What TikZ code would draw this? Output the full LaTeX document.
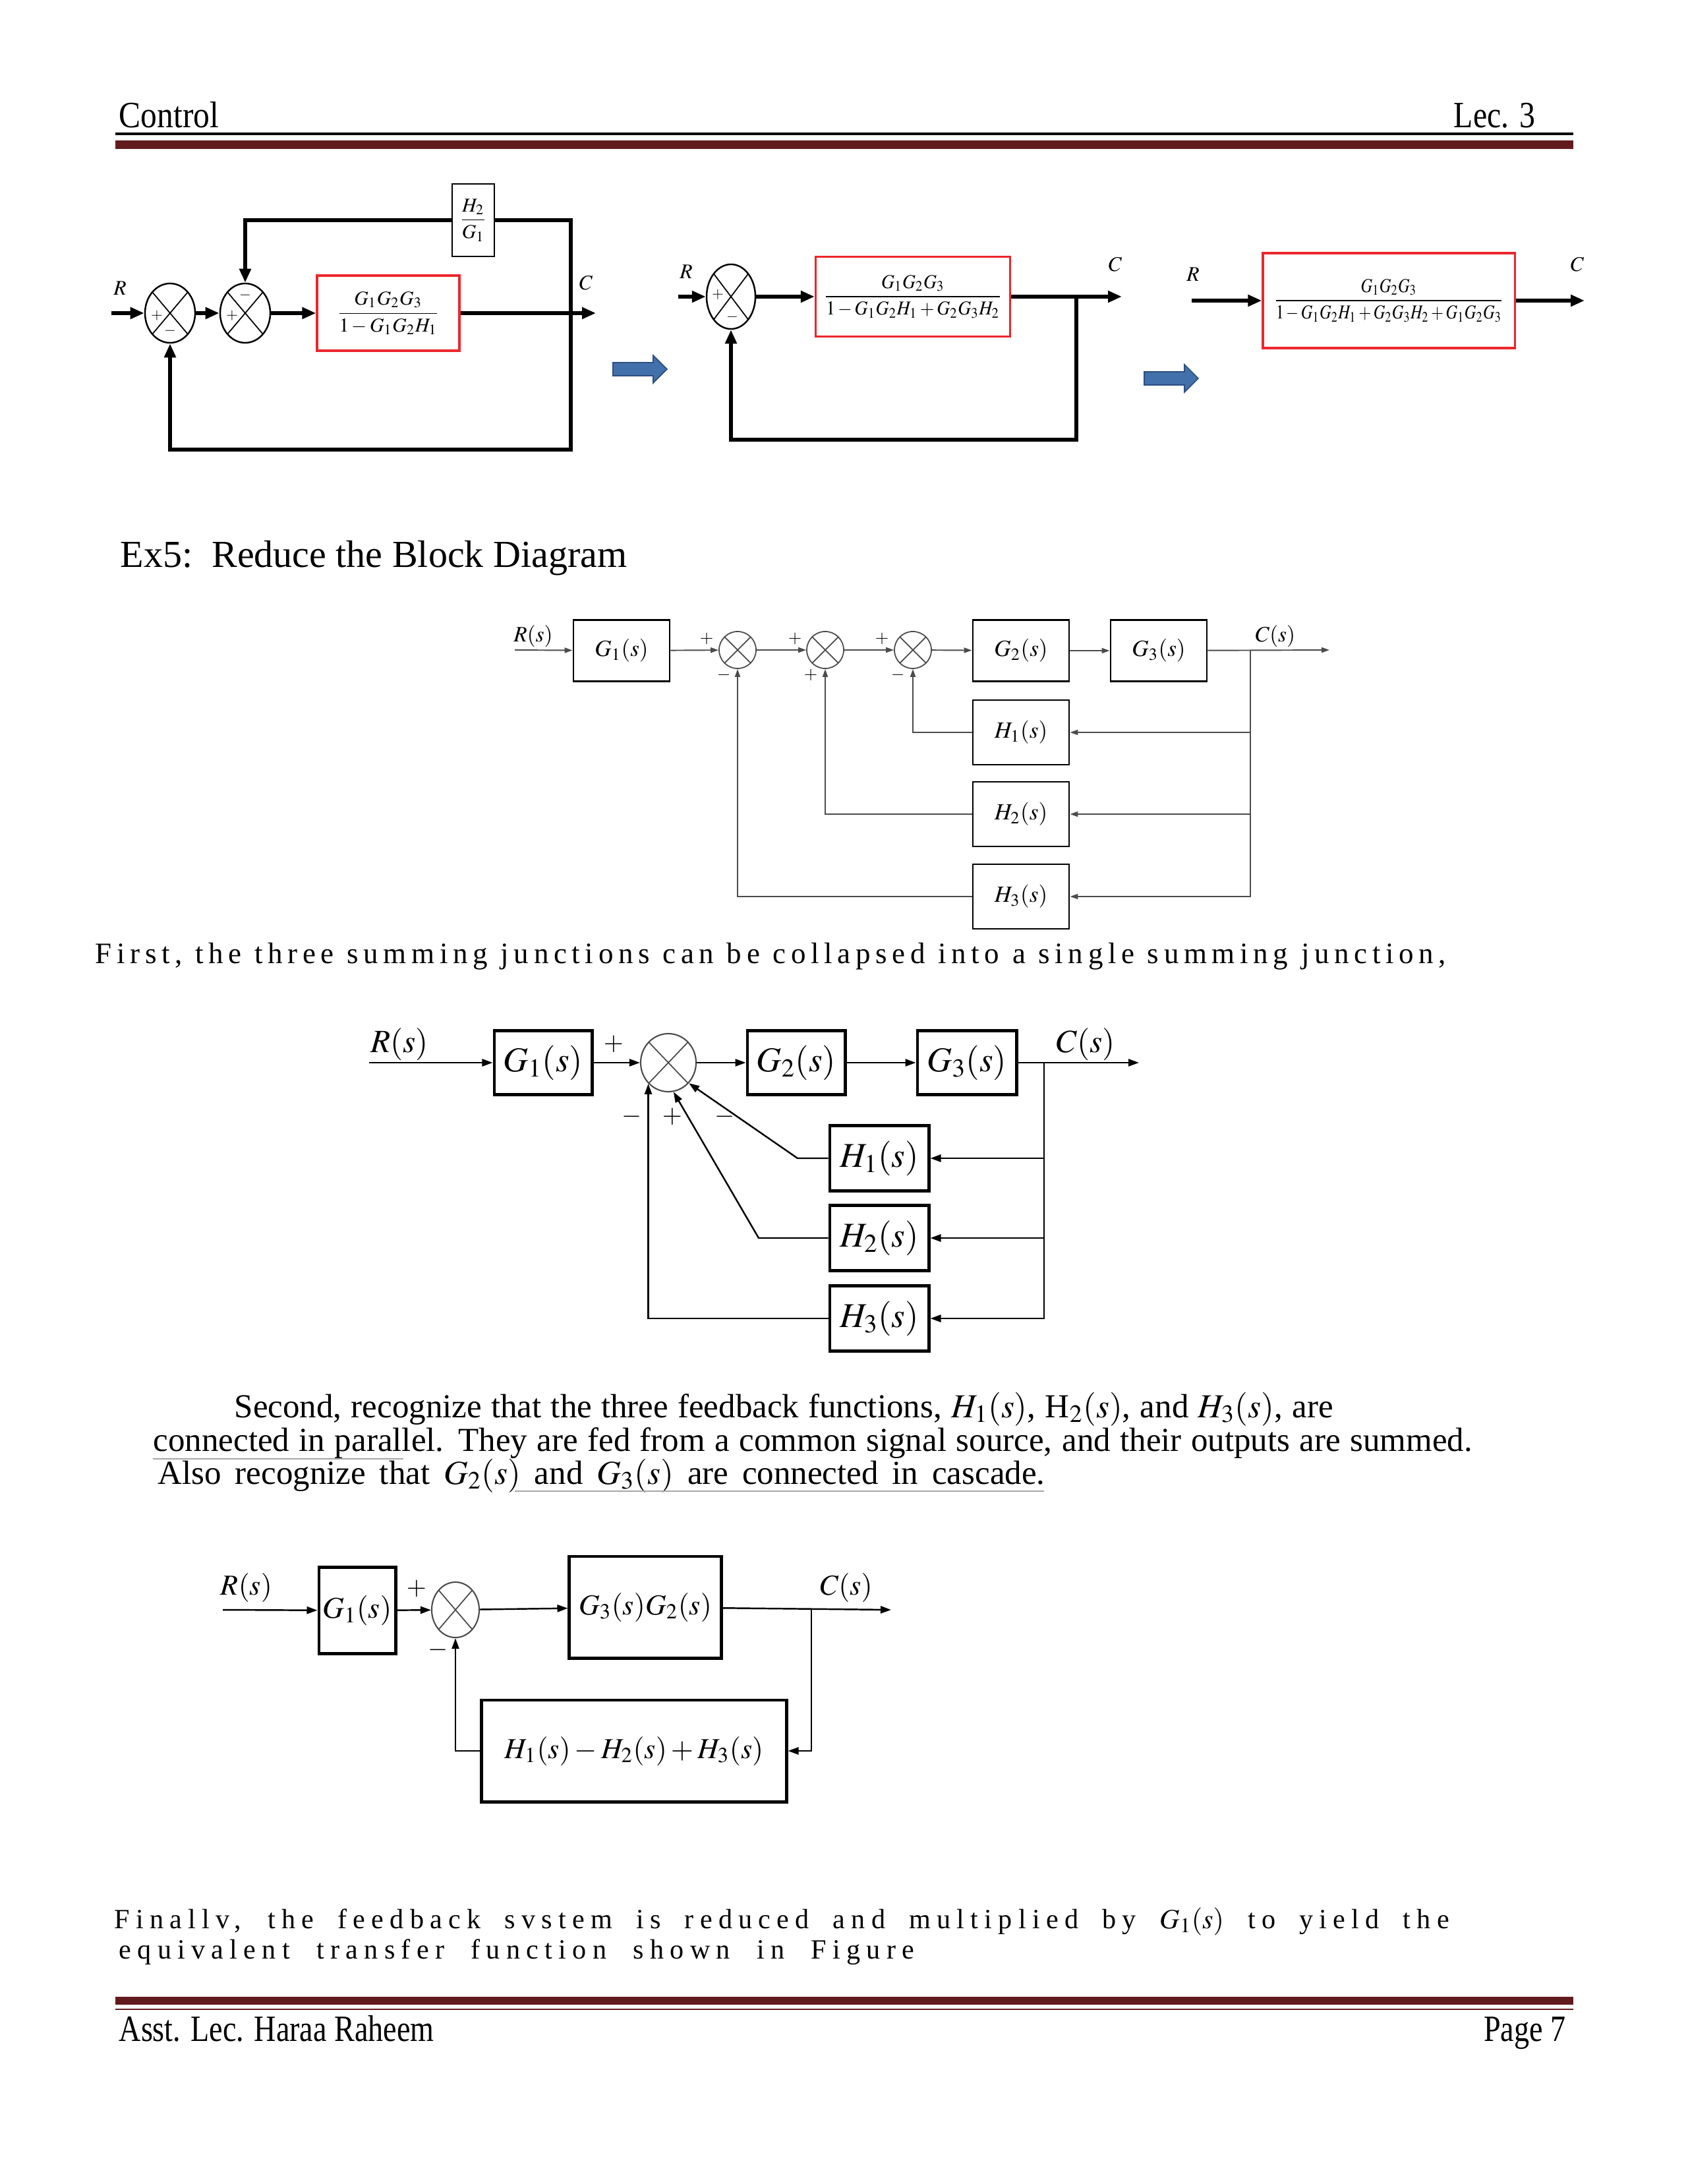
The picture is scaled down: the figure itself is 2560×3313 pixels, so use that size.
\documentclass[tikz,border=0pt]{standalone}
\usepackage{amsmath}
\usepackage{mathptmx}
\usepackage{fontspec}
\setmainfont{Liberation Serif}
\newfontfamily\spacedfont[LetterSpace=17]{Liberation Serif}
\newfontfamily\closingfont[LetterSpace=22]{Liberation Serif}
\usetikzlibrary{shapes,arrows.meta,positioning,calc}

\definecolor{barred}{RGB}{98,27,29}
\definecolor{boxred}{RGB}{236,38,44}
\definecolor{arrowblue}{RGB}{66,112,170}
\definecolor{arrowedge}{RGB}{44,78,128}
\definecolor{wiregray}{RGB}{75,75,75}

\tikzset{
  pagetext/.style={inner sep=0pt, anchor=base west},
  headtext/.style={inner sep=0pt, font=\fontsize{16}{18}\selectfont},
  crossed/.style={path picture={
      \draw[line width=0.5pt] (path picture bounding box.north west) -- (path picture bounding box.south east)
        (path picture bounding box.north east) -- (path picture bounding box.south west);}},
  % thick top-row diagrams
  bigline/.style={line width=1.7pt},
  bigwire/.style={bigline, -{Triangle[length=0.21cm,width=0.17cm]}},
  bigsum/.style={draw, line width=0.7pt, ellipse, inner sep=0pt, minimum width=0.76cm, minimum height=0.9cm, crossed},
  redblock/.style={draw=boxred, line width=0.9pt, inner sep=2pt, font=\fontsize{8.5}{10}\selectfont},
  plainblock/.style={draw, line width=0.7pt, fill=white, inner sep=1pt, font=\fontsize{8.5}{10}\selectfont},
  sign/.style={inner sep=0pt, font=\fontsize{6.5}{7}\selectfont},
  difflabel/.style={inner sep=0pt, font=\fontsize{9}{10}\selectfont},
  blockarrow/.style={single arrow, fill=arrowblue, draw=arrowedge, line width=0.5pt, minimum height=0.82cm,
    minimum width=0.4cm, single arrow head extend=0.11cm, inner sep=0.09cm},
  % Ex5 original diagram
  thinline/.style={draw=wiregray, line width=0.55pt},
  thinwire/.style={thinline, -{Triangle[length=0.12cm,width=0.08cm]}},
  smallblock/.style={draw, line width=0.8pt, minimum width=1.46cm, minimum height=0.93cm, inner sep=0pt, font=\fontsize{10}{12}\selectfont},
  smallsum/.style={draw=wiregray, line width=0.5pt, circle, inner sep=0pt, minimum size=0.56cm, crossed},
  smallsign/.style={inner sep=0pt, font=\fontsize{7.5}{8}\selectfont},
  smalllabel/.style={inner sep=0pt, font=\fontsize{9.5}{11}\selectfont},
  % reduced diagrams
  midline/.style={line width=0.7pt},
  midwire/.style={midline, -{Triangle[length=0.16cm,width=0.11cm]}},
  fatblock/.style={draw, line width=1.4pt, inner sep=0pt},
  midsum/.style={draw=wiregray, line width=0.6pt, ellipse, inner sep=0pt, crossed},
  midsign/.style={inner sep=0pt, font=\fontsize{11}{12}\selectfont},
}

\begin{document}
\begin{tikzpicture}[x=0.01cm,y=-0.01cm]
\useasboundingbox (0,0) rectangle (2560,3313);
\fill[white] (0,0) rectangle (2560,3313);

% header and footer
\node[headtext, anchor=base west] (hdLeft) at (180,194) {\scalebox{0.88}[1]{Control}};
\node[headtext, anchor=base east] (hdRight) at (2330,194) {\scalebox{0.85}[1]{Lec. 3}};
\draw[line width=0.9pt] (175,203) -- (2387,203);
\draw[barred, line width=3.7pt] (175,220) -- (2387,220);
\draw[barred, line width=3.4pt] (175,3035) -- (2387,3035);
\draw[barred, line width=0.8pt] (175,3048) -- (2387,3048);
\node[headtext, anchor=base west] (ftLeft) at (180,3096) {\scalebox{0.82}[1]{Asst. Lec. Haraa Raheem}};
\node[headtext, anchor=base east] (ftRight) at (2376,3096) {\scalebox{0.82}[1]{Page 7}};

% first reduction
\node[bigsum] (sumA) at (258,475) {};
\node[bigsum] (sumB) at (372,475) {};
\node[redblock, minimum width=2.16cm, minimum height=1.14cm] (blkA) at (589,475) {$\dfrac{G_1G_2G_3}{1-G_1G_2H_1}$};
\node[plainblock, minimum width=0.64cm, minimum height=1.1cm] (hovg) at (718,334) {$\dfrac{H_2}{G_1}$};
\coordinate (inA) at (169,475);
\coordinate (outA) at (904,475);
\coordinate (brA) at (866,475);
\coordinate (lowA) at (866,682);
\node[difflabel] (labRA) at (182,437) {$R$};
\node[difflabel] (labCA) at (889,429) {$C$};
\draw[bigwire] (inA) -- (sumA);
\draw[bigwire] (sumA) -- (sumB);
\draw[bigwire] (sumB) -- (blkA);
\draw[bigwire] (blkA) -- (outA);
\draw[bigline] (brA) |- (hovg.east);
\draw[bigwire] (hovg.west) -| (sumB.north);
\draw[bigwire] (brA) -- (lowA) -| (sumA.south);
\node[sign] (pA) at (238,479) {$+$};
\node[sign] (mA) at (258,502) {$-$};
\node[sign] (pB) at (352,479) {$+$};
\node[sign] (mB) at (372,448) {$-$};
\node[blockarrow] (goA) at (966,560) {};

% second reduction
\node[bigsum, minimum width=0.74cm, minimum height=0.98cm] (sumC) at (1109,450) {};
\node[redblock, minimum width=2.95cm, minimum height=1.21cm] (blkB) at (1385,450) {\scalebox{0.93}[1]{$\dfrac{G_1G_2G_3}{1-G_1G_2H_1+G_2G_3H_2}$}};
\coordinate (inB) at (1029,450);
\coordinate (outB) at (1702,450);
\coordinate (brB) at (1633,450);
\coordinate (lowB) at (1633,667);
\node[difflabel] (labRB) at (1041,412) {$R$};
\node[difflabel] (labCB) at (1692,401) {$C$};
\draw[bigwire] (inB) -- (sumC);
\draw[bigwire] (sumC) -- (blkB);
\draw[bigwire] (blkB) -- (outB);
\draw[bigwire] (brB) -- (lowB) -| (sumC.south);
\node[sign] (pC) at (1089,447) {$+$};
\node[sign] (mC) at (1111,481) {$-$};
\node[blockarrow] (goB) at (1772,574) {};

% closed form
\node[redblock, minimum width=3.82cm, minimum height=1.44cm] (blkC) at (2107,456) {\scalebox{0.82}[1]{$\dfrac{G_1G_2G_3}{1-G_1G_2H_1+G_2G_3H_2+G_1G_2G_3}$}};
\coordinate (inC) at (1808,456);
\coordinate (outC) at (2404,456);
\node[difflabel] (labRC) at (1810,416) {$R$};
\node[difflabel] (labCC) at (2393,401) {$C$};
\draw[bigwire] (inC) -- (blkC);
\draw[bigwire] (blkC) -- (outC);

\node[pagetext, font=\fontsize{16.5}{20}\selectfont] (exTitle) at (182,860) {Ex5:\ \ Reduce the Block Diagram};

% Ex5 block diagram
\node[smallblock] (gOne) at (943,987) {$G_1(s)$};
\node[smallsum] (sumD) at (1119,986) {};
\node[smallsum] (sumE) at (1252,986) {};
\node[smallsum] (sumF) at (1385,986) {};
\node[smallblock] (gTwo) at (1549,987) {$G_2(s)$};
\node[smallblock] (gThree) at (1758,987) {$G_3(s)$};
\node[smallblock, minimum height=0.98cm] (hOne) at (1549,1111) {$H_1(s)$};
\node[smallblock, minimum height=0.98cm] (hTwo) at (1549,1235) {$H_2(s)$};
\node[smallblock, minimum height=0.98cm] (hThree) at (1549,1360) {$H_3(s)$};
\coordinate (inD) at (781,986);
\coordinate (outD) at (2017,986);
\coordinate (brD) at (1897,986);
\node[smalllabel] (labRD) at (809,965) {$R(s)$};
\node[smalllabel] (labCD) at (1935,965) {$C(s)$};
\draw[thinwire] (inD) -- (gOne);
\draw[thinwire] (gOne) -- (sumD);
\draw[thinwire] (sumD) -- (sumE);
\draw[thinwire] (sumE) -- (sumF);
\draw[thinwire] (sumF) -- (gTwo);
\draw[thinwire] (gTwo) -- (gThree);
\draw[thinwire] (gThree) -- (outD);
\draw[thinwire] (brD) |- (hOne.east);
\draw[thinwire] (brD) |- (hTwo.east);
\draw[thinwire] (brD) |- (hThree.east);
\draw[thinwire] (hOne.west) -| (sumF.south);
\draw[thinwire] (hTwo.west) -| (sumE.south);
\draw[thinwire] (hThree.west) -| (sumD.south);
\node[smallsign] (pD) at (1072,969) {$+$};
\node[smallsign] (mD) at (1098,1024) {$-$};
\node[smallsign] (pE) at (1206,969) {$+$};
\node[smallsign] (qE) at (1230,1024) {$+$};
\node[smallsign] (pF) at (1338,969) {$+$};
\node[smallsign] (mF) at (1362,1024) {$-$};

\node[pagetext, font=\spacedfont\fontsize{12.8}{14}\selectfont] (firstTxt) at (144,1461)
  {\makebox[20.48cm][s]{First, the three summing junctions can be collapsed into a single summing junction,}};

% single summing junction
\node[fatblock, minimum width=1.48cm, minimum height=0.97cm, font=\fontsize{15}{17}\selectfont] (gOneB) at (824,1612) {$G_1(s)$};
\node[midsum, minimum width=0.84cm, minimum height=0.88cm] (sumG) at (1014,1612) {};
\node[fatblock, minimum width=1.48cm, minimum height=0.97cm, font=\fontsize{15}{17}\selectfont] (gTwoB) at (1208,1612) {$G_2(s)$};
\node[fatblock, minimum width=1.5cm, minimum height=0.97cm, font=\fontsize{15}{17}\selectfont] (gThreeB) at (1467,1612) {$G_3(s)$};
\node[fatblock, minimum width=1.5cm, minimum height=0.99cm, font=\fontsize{15}{17}\selectfont] (hOneB) at (1334,1757) {$H_1(s)$};
\node[fatblock, minimum width=1.5cm, minimum height=0.99cm, font=\fontsize{15}{17}\selectfont] (hTwoB) at (1334,1878) {$H_2(s)$};
\node[fatblock, minimum width=1.5cm, minimum height=0.99cm, font=\fontsize{15}{17}\selectfont] (hThreeB) at (1334,2000) {$H_3(s)$};
\coordinate (inG) at (560,1612);
\coordinate (outG) at (1728,1612);
\coordinate (brG) at (1584,1612);
\coordinate (kinkOne) at (1210,1757);
\coordinate (kinkTwo) at (1151,1878);
\node[smalllabel, font=\fontsize{14}{16}\selectfont] (labRG) at (606,1584) {$\boldsymbol{R(s)}$};
\node[smalllabel, font=\fontsize{14}{16}\selectfont] (labCG) at (1647,1584) {$\boldsymbol{C(s)}$};
\draw[midwire] (inG) -- (gOneB);
\draw[midwire] (gOneB) -- (sumG);
\draw[midwire] (sumG) -- (gTwoB);
\draw[midwire] (gTwoB) -- (gThreeB);
\draw[midwire] (gThreeB) -- (outG);
\draw[midwire] (brG) |- (hOneB.east);
\draw[midwire] (brG) |- (hTwoB.east);
\draw[midwire] (brG) |- (hThreeB.east);
\draw[midwire] (hOneB.west) -- (kinkOne) -- (sumG.-45);
\draw[midwire] (hTwoB.west) -- (kinkTwo) -- (sumG.-80);
\draw[midwire] (hThreeB.west) -| (sumG.south west);
\node[midsign] (pG) at (931,1584) {$\boldsymbol{+}$};
\node[midsign] (mG) at (959,1694) {$-$};
\node[midsign] (qG) at (1020,1694) {$+$};
\node[midsign] (nG) at (1100,1694) {$-$};

% second paragraph
\node[pagetext, font=\fontsize{14.5}{16}\selectfont] (secA) at (355,2150)
  {\makebox[16.66cm][s]{Second, recognize that the three feedback functions, $H_1(s)$, H$_2(s)$, and $H_3(s)$, are}};
\node[pagetext, font=\fontsize{14.5}{16}\selectfont] (secB) at (232,2201)
  {\makebox[20cm][s]{connected in parallel. They are fed from a common signal source, and their outputs are summed.}};
\node[pagetext, font=\fontsize{14.5}{16}\selectfont] (secC) at (239,2251)
  {\makebox[13.45cm][s]{Also recognize that $G_2(s)$ and $G_3(s)$ are connected in cascade.}};
\draw[gray!70, line width=0.6pt] (232,2213) -- (612,2213);
\draw[gray!70, line width=0.6pt] (781,2262) -- (1584,2262);

% single loop
\node[fatblock, minimum width=1.16cm, minimum height=1.31cm, font=\fontsize{13}{15}\selectfont] (gOneC) at (542,2443) {$G_1(s)$};
\node[midsum, minimum width=0.72cm, minimum height=0.84cm] (sumH) at (691,2442) {};
\node[fatblock, minimum width=2.3cm, minimum height=1.54cm, font=\fontsize{12.5}{15}\selectfont] (gPair) at (979,2438) {$G_3(s)G_2(s)$};
\node[fatblock, minimum width=4.62cm, minimum height=1.54cm, font=\fontsize{12.5}{15}\selectfont] (hSum) at (962,2656) {$H_1(s)-H_2(s)+H_3(s)$};
\coordinate (inH) at (338,2442);
\coordinate (outH) at (1352,2442);
\coordinate (brH) at (1231,2442);
\node[smalllabel, font=\fontsize{12.5}{15}\selectfont] (labRH) at (374,2408) {$R(s)$};
\node[smalllabel, font=\fontsize{12.5}{15}\selectfont] (labCH) at (1284,2408) {$C(s)$};
\draw[midwire] (inH) -- (gOneC);
\draw[midwire] (gOneC) -- (sumH);
\draw[midwire] (sumH) -- (gPair);
\draw[midwire] (gPair) -- (outH);
\draw[midwire] (brH) |- (hSum.east);
\draw[midwire] (hSum.west) -| (sumH.south);
\node[midsign] (pH) at (632,2410) {$+$};
\node[midsign] (mH) at (665,2503) {$-$};

% last paragraph
\node[pagetext, font=\closingfont\fontsize{12}{13}\selectfont] (finA) at (173,2925)
  {\makebox[20.24cm][s]{Finallv, the feedback svstem is reduced and multiplied by $G_1(s)$ to yield the}};
\node[pagetext, font=\closingfont\fontsize{12}{13}\selectfont] (finB) at (180,2971)
  {\makebox[12.06cm][s]{equivalent transfer function shown in Figure}};
\end{tikzpicture}
\end{document}
